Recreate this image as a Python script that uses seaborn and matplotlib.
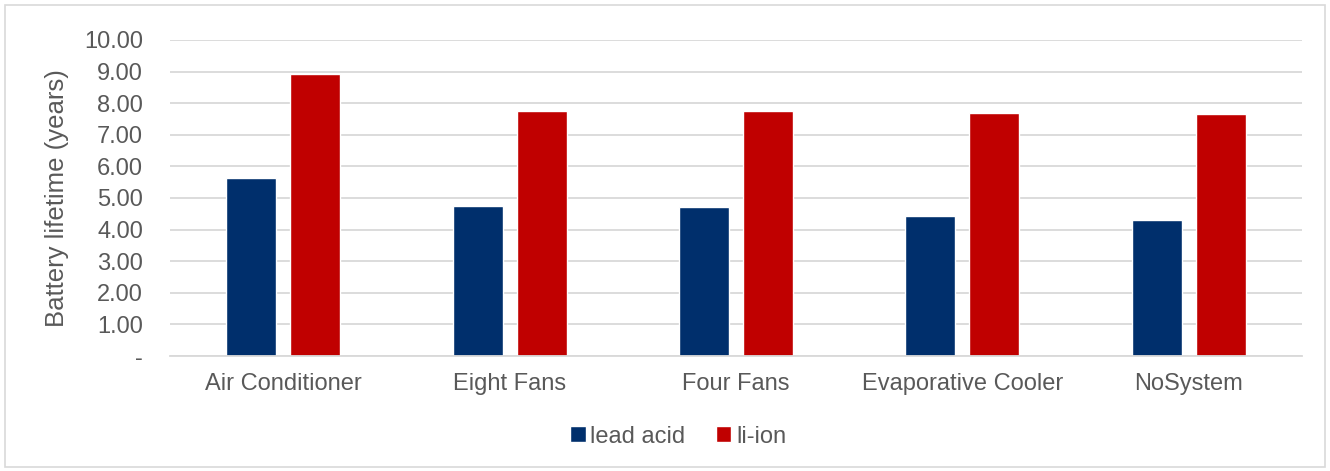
import matplotlib
matplotlib.use("Agg")
import matplotlib.pyplot as plt
import matplotlib.patches as mpatches
import seaborn as sns
import pandas as pd

categories = ["Air Conditioner", "Eight Fans", "Four Fans", "Evaporative Cooler", "NoSystem"]
lead_acid = [5.64, 4.75, 4.71, 4.43, 4.29]
li_ion = [8.93, 7.75, 7.74, 7.68, 7.66]
series_names = ["lead acid", "li-ion"]
y_ticks = [0, 1, 2, 3, 4, 5, 6, 7, 8, 9, 10]

df = pd.DataFrame({
    "system": categories * 2,
    "value": lead_acid + li_ion,
    "battery": [series_names[0]] * len(categories) + [series_names[1]] * len(categories),
})

sns.set_theme(style="white")
plt.rcParams["font.family"] = ["Liberation Sans", "DejaVu Sans"]
text_color = "#595959"
grid_color = "#d9d9d9"
fs = 17

fig = plt.figure(figsize=(13.3, 4.71), dpi=100)
ax = fig.add_axes([170 / 1330, 1 - 356 / 471, 1132 / 1330, 316 / 471])

sns.barplot(
    data=df, x="system", y="value", hue="battery",
    palette={"lead acid": "#002f6c", "li-ion": "#c00000"},
    width=0.565, gap=0.22, ax=ax, saturation=1, legend=True,
)

ax.set_ylim(0, 10)
ax.set_yticks(y_ticks)
ax.set_yticklabels(["-" if v == 0 else f"{v:.2f}" for v in y_ticks])
ax.yaxis.grid(True, color=grid_color, linewidth=1.3)
ax.set_axisbelow(True)
for side in ["top", "right", "left"]:
    ax.spines[side].set_visible(False)
ax.spines["bottom"].set_color(grid_color)
ax.spines["bottom"].set_linewidth(1.3)
ax.tick_params(axis="both", length=0, labelsize=fs, colors=text_color)
ax.tick_params(axis="y", pad=19.5)
ax.tick_params(axis="x", pad=12)
ax.set_xlabel("")
ax.set_ylabel("Battery lifetime (years)", fontsize=18.5, color=text_color)
ax.yaxis.set_label_coords(-0.089, 0.5)

handles, labels = ax.get_legend_handles_labels()
ax.legend(
    handles, labels, loc="center", bbox_to_anchor=(0.449, -0.255),
    ncol=2, frameon=False, fontsize=fs, labelcolor=text_color,
    handlelength=0.65, handleheight=0.65, handletextpad=0.2, columnspacing=1.3,
)

fig.patches.append(mpatches.Rectangle(
    (5 / 1330, 4 / 471), 1320 / 1330, 462 / 471, transform=fig.transFigure,
    fill=False, edgecolor=grid_color, linewidth=1.2,
))

fig.savefig("out.png", dpi=100)
